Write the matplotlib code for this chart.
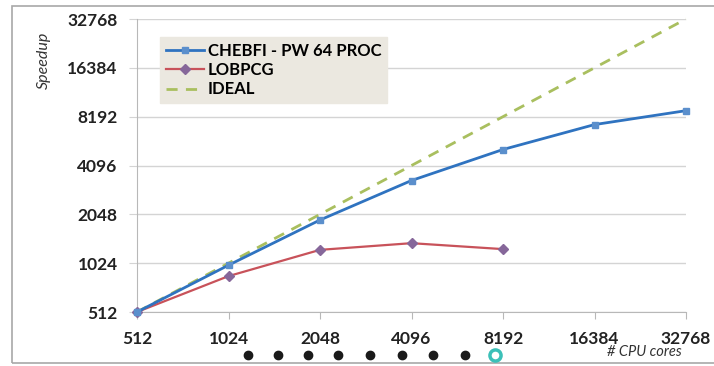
import numpy as np
import matplotlib
matplotlib.use('Agg')
import matplotlib.pyplot as plt
from matplotlib.patches import Rectangle
from matplotlib.ticker import FixedLocator, NullLocator


cores = [512, 1024, 2048, 4096, 8192, 16384, 32768]
chebfi = [512, 995, 1890, 3310, 5140, 7320, 8920]
lobpcg_cores = [512, 1024, 2048, 4096, 8192]
lobpcg = [512, 852, 1237, 1360, 1250]
ideal = [512, 1024, 2048, 4096, 8192, 16384, 32768]
tick_values = [512, 1024, 2048, 4096, 8192, 16384, 32768]
tick_labels = [str(v) for v in tick_values]

# slide navigation dots under the chart (figure pixel x)
nav_dots_x = [248, 278, 308, 338, 370, 402, 433, 465]
nav_ring_x = [495]

W, H = 714, 366

plt.rcParams['font.family'] = ['Lato', 'DejaVu Sans']

fig = plt.figure(figsize=(W / 100, H / 100), dpi=100)
ax = fig.add_axes([137 / W, 1 - 312 / H, (686 - 137) / W, (312 - 19) / H])

ax.set_xscale('log', base=2)
ax.set_yscale('log', base=2)
ax.set_xlim(512, 32768)
ax.set_ylim(512, 32768)

grid_c = '#d4d4d4'
axis_c = '#b8b8b8'

ax.plot(cores, ideal, color='#a9bf5f', lw=2.0, ls=(0, (4, 3)),
        label='IDEAL', zorder=2, clip_on=False)
ax.plot(cores, chebfi, color='#2f73c0', lw=2.0, marker='s', ms=5,
        mfc='#5b8fcc', mec='#5b8fcc', label='CHEBFI - PW 64 PROC',
        zorder=4, clip_on=False)
ax.plot(lobpcg_cores, lobpcg, color='#c8525a', lw=1.6, marker='D', ms=5,
        mfc='#86679a', mec='#86679a', label='LOBPCG', zorder=3,
        clip_on=False)

ax.xaxis.set_major_locator(FixedLocator(tick_values))
ax.yaxis.set_major_locator(FixedLocator(tick_values))
ax.xaxis.set_minor_locator(NullLocator())
ax.yaxis.set_minor_locator(NullLocator())
ax.set_xticklabels(tick_labels, fontsize=12.5, fontweight='bold', color='#222222')
ax.set_yticklabels(tick_labels, fontsize=12.5, fontweight='bold', color='#222222')
ax.tick_params(axis='x', length=5, color=axis_c, pad=9)
ax.tick_params(axis='y', length=6, color=grid_c, pad=8)

ax.grid(axis='y', color=grid_c, lw=1.0)
ax.set_axisbelow(True)
for side in ['top', 'right']:
    ax.spines[side].set_visible(False)
ax.spines['left'].set_color(axis_c)
ax.spines['bottom'].set_color(axis_c)

handles, labels = ax.get_legend_handles_labels()
order = [1, 2, 0]
leg = ax.legend([handles[i] for i in order], [labels[i] for i in order],
                loc='upper left', bbox_to_anchor=((160 - 137) / (686 - 137), 1 - (37 - 19) / (312 - 19)),
                frameon=True, fancybox=False, framealpha=1, edgecolor='#ebe8e0',
                facecolor='#ebe8e0', prop={'weight': 'bold', 'size': 12},
                handlelength=2.3, handletextpad=0.2, labelspacing=0.2,
                borderpad=0.35, borderaxespad=0)
leg._legend_box.align = 'left'
leg.set_zorder(5)

fig.text(44 / W, 1 - 60 / H, 'Speedup', rotation=90, style='italic',
         fontsize=11.5, color='#333333', ha='center', va='center')
fig.text(644 / W, 1 - 352 / H, '# CPU cores', style='italic',
         fontsize=10.5, color='#333333', ha='center', va='center')

# outer frame
fig.patches.append(Rectangle((12 / W, 1 - 363 / H), (730 - 12) / W, (363 - 6) / H,
                             transform=fig.transFigure, fill=False,
                             edgecolor='#a8a8a8', lw=1.2))

dot_y = [1 - 355 / H] * len(nav_dots_x)
fig.add_artist(plt.Line2D([x / W for x in nav_dots_x], dot_y, ls='none',
                          marker='o', ms=6, color='#1a1a1a'))
fig.add_artist(plt.Line2D([x / W for x in nav_ring_x], [1 - 355 / H], ls='none',
                          marker='o', ms=8, mfc='white', mec='#3cc0b8', mew=2.5))

fig.savefig('out.png', dpi=100)
